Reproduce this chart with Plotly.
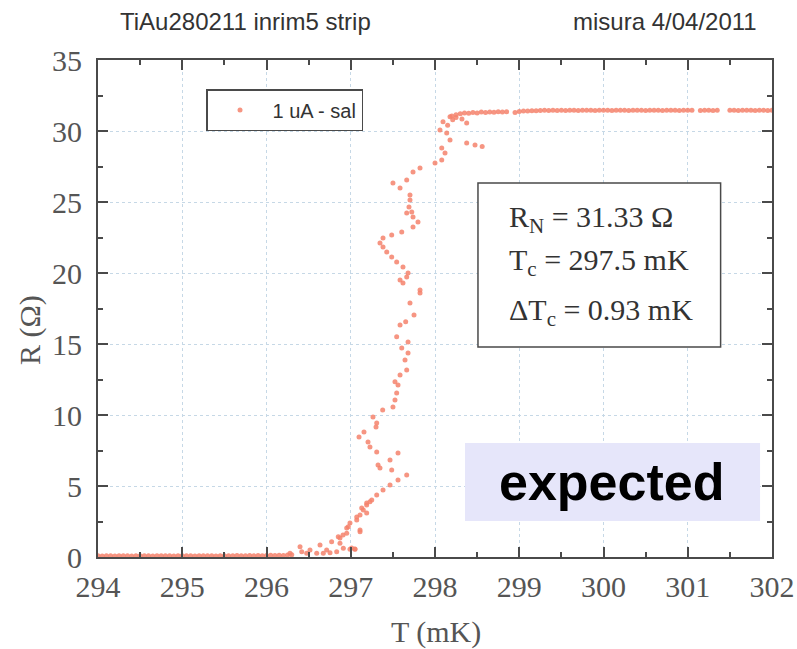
import plotly.graph_objects as go

# ---------------- data ----------------
base_T = [294.00, 294.05, 294.10, 294.15, 294.20, 294.25, 294.30, 294.35, 294.40, 294.45,
          294.50, 294.55, 294.60, 294.65, 294.70, 294.75, 294.80, 294.85, 294.90, 294.95,
          295.00, 295.05, 295.10, 295.15, 295.20, 295.25, 295.30, 295.35, 295.40, 295.45,
          295.50, 295.55, 295.60, 295.65, 295.70, 295.75, 295.80, 295.85, 295.90, 295.95,
          296.00, 296.05, 296.10, 296.15, 296.20, 296.25, 296.30]
base_R = [0.08, 0.07, 0.09, 0.08, 0.07, 0.08, 0.09, 0.08, 0.07, 0.08,
          0.09, 0.08, 0.08, 0.07, 0.09, 0.08, 0.08, 0.09, 0.07, 0.08,
          0.08, 0.09, 0.08, 0.07, 0.08, 0.09, 0.08, 0.08, 0.07, 0.09,
          0.08, 0.09, 0.08, 0.10, 0.08, 0.09, 0.10, 0.08, 0.11, 0.09,
          0.10, 0.12, 0.10, 0.13, 0.11, 0.14, 0.15]

trans_T = [296.279, 296.398, 296.418, 296.477, 296.516, 296.596, 296.635, 296.674, 296.714, 296.754,
           296.773, 296.833, 296.852, 296.872, 296.872, 296.908, 296.912, 296.952, 296.952, 296.971,
           296.991, 296.991, 297.011, 297.050, 297.050, 297.071, 297.071, 297.098, 297.110, 297.110,
           297.110, 297.130, 297.149, 297.157, 297.189, 297.189, 297.189, 297.205, 297.228, 297.228,
           297.249, 297.264, 297.300, 297.308, 297.308, 297.308, 297.324, 297.347, 297.379, 297.383,
           297.466, 297.466, 297.486, 297.501, 297.525, 297.525, 297.545, 297.545, 297.561, 297.561,
           297.561, 297.585, 297.585, 297.605, 297.644, 297.652, 297.664, 297.664, 297.680, 297.680,
           297.703, 297.751,
           297.822, 297.822, 297.620, 297.585, 297.664, 297.680, 297.620, 297.545, 297.486, 297.427,
           297.383, 297.347, 297.383, 297.486, 297.605, 297.739, 297.798, 297.739, 297.664, 297.724,
           297.691, 297.703, 297.703, 297.585, 297.501, 297.664, 297.739, 297.822, 298.000, 298.080,
           298.119, 298.080, 298.475, 298.376, 298.178, 298.139, 298.059, 298.376, 298.095, 298.178,
           298.150, 298.210, 298.250, 298.320, 298.560]
trans_R = [0.26, 0.73, 0.37, 0.26, 0.49, 0.26, 0.85, 0.26, 0.49, 0.30,
           1.08, 0.37, 1.43, 0.96, 1.34, 1.55, 0.61, 1.67, 2.04, 2.13,
           2.39, 0.54, 0.63, 0.56, 0.54, 2.61, 2.82, 8.45, 2.96, 1.78,
           1.90, 3.45, 3.31, 8.80, 3.66, 3.80, 3.10, 8.10, 3.89, 7.75,
           4.01, 9.86, 9.15, 9.44, 4.37, 7.39, 6.48, 6.27, 10.35, 4.72,
           6.83, 5.07, 6.13, 10.56, 11.06, 12.35, 11.55, 15.51, 12.11, 7.32,
           5.42, 12.82, 16.34, 14.72, 13.87, 16.57, 13.17, 5.77, 15.14, 14.37,
           17.89, 17.04,
           18.59, 18.80, 19.30, 19.51, 19.72, 20.00, 20.42, 20.77, 21.13, 21.48,
           21.83, 22.11, 22.46, 22.68, 22.89, 23.24, 23.59, 23.94, 24.23, 24.30,
           24.65, 25.14, 25.49, 25.99, 26.34, 26.55, 27.11, 27.39, 27.75, 27.96,
           28.45, 28.80, 29.01, 29.15, 29.37, 29.86, 30.07, 30.56, 30.65, 31.01,
           30.40, 30.80, 30.95, 30.85, 28.90]

plat_T = [298.20, 298.25, 298.30, 298.35, 298.40, 298.45, 298.50, 298.55, 298.60, 298.65,
          298.70, 298.75, 298.80, 298.85, 298.95, 299.00, 299.05, 299.10, 299.15, 299.20,
          299.25, 299.30, 299.35, 299.40, 299.45, 299.50, 299.55, 299.60, 299.65, 299.70,
          299.75, 299.80, 299.85, 299.90, 299.95, 300.00, 300.05, 300.10, 300.15, 300.20,
          300.25, 300.30, 300.35, 300.40, 300.45, 300.50, 300.55, 300.60, 300.65, 300.70,
          300.75, 300.80, 300.85, 300.90, 300.95, 301.00, 301.05, 301.15, 301.20, 301.25,
          301.30, 301.35, 301.50, 301.55, 301.60, 301.65, 301.70, 301.75, 301.80, 301.85,
          301.90, 301.95, 302.00]
plat_R = [31.05, 31.15, 31.22, 31.27, 31.25, 31.30, 31.27, 31.33, 31.30, 31.34,
          31.32, 31.36, 31.34, 31.35, 31.30, 31.38, 31.41, 31.40, 31.43, 31.42,
          31.45, 31.46, 31.44, 31.46, 31.45, 31.47, 31.45, 31.46, 31.47, 31.45,
          31.46, 31.47, 31.46, 31.45, 31.47, 31.46, 31.47, 31.45, 31.46, 31.47,
          31.46, 31.45, 31.47, 31.46, 31.47, 31.45, 31.46, 31.47, 31.46, 31.45,
          31.47, 31.46, 31.47, 31.45, 31.46, 31.47, 31.46, 31.45, 31.47, 31.46,
          31.45, 31.47, 31.46, 31.47, 31.45, 31.46, 31.47, 31.46, 31.45, 31.47,
          31.46, 31.45, 31.46]

T_all = base_T + trans_T + plat_T
R_all = base_R + trans_R + plat_R

x_ticks = [294, 295, 296, 297, 298, 299, 300, 301, 302]
y_ticks = [0, 5, 10, 15, 20, 25, 30, 35]

series_name = "1 uA - sal"
title_left = "TiAu280211 inrim5 strip"
title_right = "misura 4/04/2011"
stat_lines = ["R<sub>N</sub> = 31.33 Ω", "T<sub>c</sub> = 297.5 mK", "ΔT<sub>c</sub> = 0.93 mK"]
stat_y = [23.8, 20.77, 17.25]

# ---------------- figure ----------------
AX = "#4a4a4a"
GRID = "#c6d8e6"
SERIF = "Liberation Serif, Times New Roman, serif"
SANS = "Liberation Sans, Arial, sans-serif"

fig = go.Figure()
fig.add_trace(go.Scatter(
    x=T_all, y=R_all, mode="markers", name=series_name,
    marker=dict(color="#f4826c", size=5, opacity=0.85, line=dict(width=0)),
    showlegend=True,
))

axis_common = dict(
    showline=True, linecolor=AX, linewidth=2, mirror="ticks",
    ticks="inside", ticklen=10, tickwidth=2, tickcolor=AX,
    showgrid=True, gridcolor=GRID, griddash="dot", gridwidth=1,
    zeroline=False, automargin=False,
    tickfont=dict(family=SERIF, size=30, color="#555555"),
)

fig.update_xaxes(range=[294, 302], tickvals=x_ticks, ticktext=[str(v) for v in x_ticks],
                 minor=dict(dtick=0.5, ticks="inside", ticklen=5, tickwidth=2, tickcolor=AX, showgrid=False),
                 ticklabelstandoff=2,
                 **axis_common)
fig.update_yaxes(range=[0, 35], tickvals=y_ticks, ticktext=[str(v) for v in y_ticks],
                 minor=dict(dtick=2.5, ticks="inside", ticklen=5, tickwidth=2, tickcolor=AX, showgrid=False),
                 ticklabelstandoff=8,
                 **axis_common)

shapes = [
    dict(type="rect", xref="x", yref="y", x0=298.51, x1=301.39, y0=14.79, y1=26.34,
         line=dict(color=AX, width=1.5), fillcolor="white", layer="above"),
    dict(type="rect", xref="x", yref="y", x0=298.356, x1=301.858, y0=2.54, y1=8.03,
         line=dict(width=0), fillcolor="#e6e6fa", layer="above"),
]

annotations = [
    dict(text=title_left, xref="paper", yref="paper", x=(245 - 98) / 674, y=(557 - 22) / 497,
         showarrow=False, xanchor="center", yanchor="middle",
         font=dict(family=SANS, size=24, color="#333333")),
    dict(text=title_right, xref="paper", yref="paper", x=(665 - 98) / 674, y=(557 - 22) / 497,
         showarrow=False, xanchor="center", yanchor="middle",
         font=dict(family=SANS, size=24, color="#333333")),
    dict(text="R (Ω)", xref="paper", yref="paper", x=(30 - 98) / 674, y=(557 - 330) / 497,
         showarrow=False, textangle=-90, xanchor="center", yanchor="middle",
         font=dict(family=SERIF, size=30, color="#555555")),
    dict(text="T (mK)", xref="paper", yref="paper", x=(436 - 98) / 674, y=(557 - 632) / 497,
         showarrow=False, xanchor="center", yanchor="middle",
         font=dict(family=SERIF, size=30, color="#555555")),
    dict(text="<b>expected</b>", xref="x", yref="y", x=300.10, y=5.28,
         showarrow=False, xanchor="center", yanchor="middle",
         font=dict(family=SANS, size=52, color="black")),
]
for line, yv in zip(stat_lines, stat_y):
    annotations.append(dict(text=line, xref="x", yref="y", x=298.855, y=yv,
                            showarrow=False, xanchor="left", yanchor="middle",
                            font=dict(family=SERIF, size=30, color="#333333")))

fig.update_layout(
    width=797, height=649,
    margin=dict(l=98, r=25, t=60, b=92, pad=0),
    paper_bgcolor="white", plot_bgcolor="white",
    shapes=shapes, annotations=annotations,
    legend=dict(x=(206 - 98) / 674, y=(557 - 89) / 497, xanchor="left", yanchor="top",
                bordercolor=AX, borderwidth=1.5, bgcolor="white",
                font=dict(family=SANS, size=20, color="#333333"),
                itemwidth=55, tracegroupgap=0),
)

fig.write_html("out.html")
